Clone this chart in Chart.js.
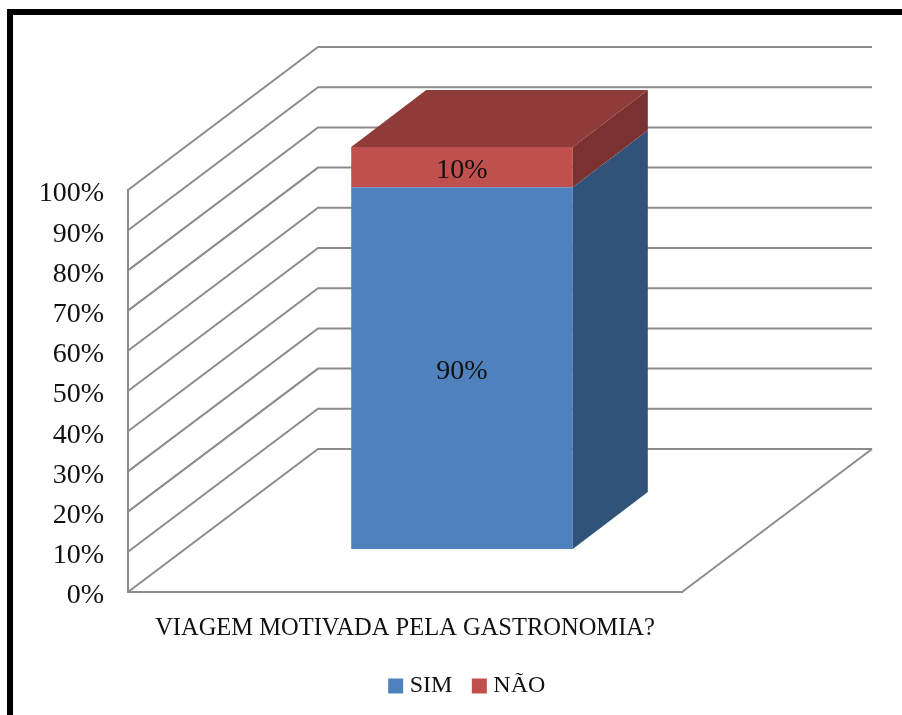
<!DOCTYPE html>
<html><head><meta charset="utf-8">
<style>
html,body{margin:0;padding:0;background:#fff;overflow:hidden}
#wrap{position:absolute;left:0;top:0;width:902px;height:715px}
#frame{position:absolute;left:7px;top:9px;width:895px;height:706px;border-left:6px solid #000;border-top:6px solid #000;box-sizing:border-box}
canvas{position:absolute;left:0;top:0}
</style>
<script src="https://cdn.jsdelivr.net/npm/chart.js@4"></script>
</head><body>
<div id="wrap"><div id="frame"></div><canvas id="c" width="902" height="715"></canvas></div>
<script>
const categories = ['VIAGEM MOTIVADA PELA GASTRONOMIA?'];
const simValues = [90];
const naoValues = [10];
const seriesNames = ['SIM', 'NÃO'];
const yTicks = [0,10,20,30,40,50,60,70,80,90,100];

const FONT = 'Liberation Serif';
const WALL = {dx:190, dy:-143};
const FLOOR = {dx:57, dy:-43};
const DEPTH = {dx:75, dy:-57};
const GRID = '#8c8c8c';

function poly(ctx, pts, fill){
  ctx.beginPath();
  pts.forEach((p,i)=> i?ctx.lineTo(p[0],p[1]):ctx.moveTo(p[0],p[1]));
  ctx.closePath(); ctx.fillStyle = fill; ctx.fill();
}

const threeD = {
  id:'threeD',
  beforeDatasetsDraw(chart){
    const {ctx, chartArea:a, scales:{y}} = chart;
    ctx.save();
    ctx.strokeStyle = GRID; ctx.lineWidth = 2;
    yTicks.forEach(v=>{
      const py = y.getPixelForValue(v);
      ctx.beginPath();
      ctx.moveTo(a.left, py);
      ctx.lineTo(a.left+WALL.dx, py+WALL.dy);
      ctx.lineTo(a.right+WALL.dx, py+WALL.dy);
      ctx.stroke();
    });
    ctx.beginPath();
    ctx.moveTo(a.right, a.bottom);
    ctx.lineTo(a.right+WALL.dx, a.bottom+WALL.dy);
    ctx.stroke();
    ctx.restore();
    ctx.save();
    ctx.translate(FLOOR.dx, FLOOR.dy);
  },
  afterDatasetsDraw(chart){
    const {ctx} = chart;
    const sim = chart.getDatasetMeta(0).data[0];
    const nao = chart.getDatasetMeta(1).data[0];
    const L = sim.x - sim.width/2, R = sim.x + sim.width/2;
    const d = DEPTH;
    poly(ctx, [[R,sim.base],[R+d.dx,sim.base+d.dy],[R+d.dx,sim.y+d.dy],[R,sim.y]], '#325379');
    poly(ctx, [[R,nao.base],[R+d.dx,nao.base+d.dy],[R+d.dx,nao.y+d.dy],[R,nao.y]], '#7B3130');
    poly(ctx, [[L,nao.y],[L+d.dx,nao.y+d.dy],[R+d.dx,nao.y+d.dy],[R,nao.y]], '#8F3B3A');
    ctx.fillStyle = '#111';
    ctx.font = '28px "'+FONT+'"';
    ctx.textAlign = 'center'; ctx.textBaseline = 'middle';
    ctx.fillText(simValues[0]+'%', sim.x, (sim.y+sim.base)/2+4);
    ctx.fillText(naoValues[0]+'%', nao.x, (nao.y+nao.base)/2+4);
    ctx.restore();
  }
};

new Chart(document.getElementById('c'), {
  type:'bar',
  data:{labels:categories, datasets:[
    {label:seriesNames[0], data:simValues, backgroundColor:'#4F81BD', borderWidth:0, yAxisID:'y'},
    {label:seriesNames[1], data:naoValues, backgroundColor:'#C0504D', borderWidth:0, yAxisID:'y'}
  ]},
  options:{
    responsive:false, animation:false,
    layout:{padding:{left:37,right:0,top:190,bottom:7}},
    datasets:{bar:{categoryPercentage:1,barPercentage:0.4}},
    plugins:{
      tooltip:{enabled:false},
      legend:{position:'bottom',labels:{
        font:{family:FONT,size:24},color:'#111',boxWidth:4,boxHeight:15,usePointStyle:true,pointStyle:'rect',padding:25
      }}
    },
    scales:{
      x:{stacked:true,
        grid:{display:false},
        border:{display:true,color:GRID,width:2},
        ticks:{font:{family:FONT,size:24.5},color:'#111',padding:14,maxRotation:0},
        afterFit(s){s.height=57;}
      },
      y:{stacked:true,min:0,max:100,
        grid:{display:false,drawTicks:false},
        border:{display:true,color:GRID,width:2},
        ticks:{stepSize:10,padding:24,labelOffset:4,font:{family:FONT,size:28},color:'#111',callback:v=>v+'%'},
        afterFit(s){s.width=91;}
      },
      pad:{position:'right',min:0,max:1,
        grid:{display:false,drawTicks:false},border:{display:false},
        ticks:{display:false},
        afterFit(s){s.width=220;}
      }
    }
  },
  plugins:[threeD]
});
</script>
</body></html>
